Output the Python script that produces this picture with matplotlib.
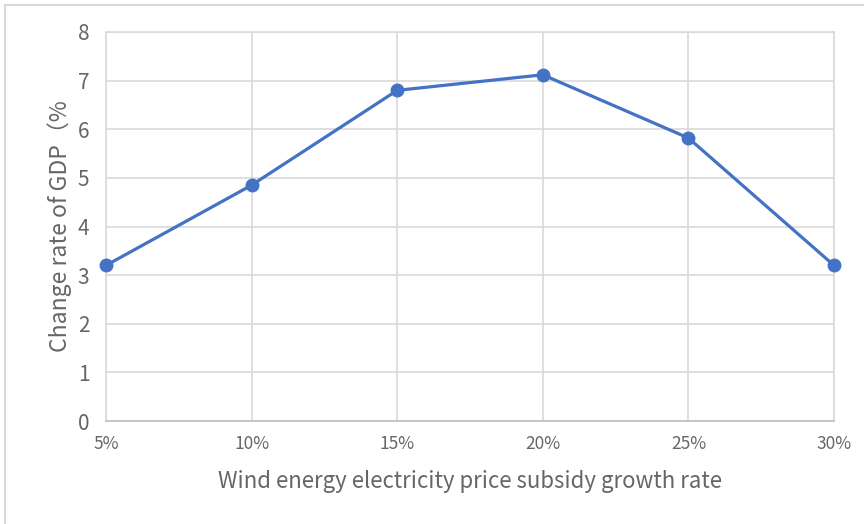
import matplotlib
matplotlib.use("Agg")
import matplotlib.pyplot as plt
from matplotlib.lines import Line2D

plt.rcParams['font.family'] = ['Noto Sans CJK SC', 'DejaVu Sans']

categories = ["5%", "10%", "15%", "20%", "25%", "30%"]
gdp_change = [3.2, 4.85, 6.8, 7.12, 5.82, 3.2]
y_ticks = [0, 1, 2, 3, 4, 5, 6, 7, 8]

W, H = 864, 524
fig = plt.figure(figsize=(W / 100, H / 100), dpi=100)
ax = fig.add_axes([106 / W, 1 - 421 / H, (834 - 106) / W, (421 - 32) / H])

x = list(range(len(categories)))
ax.plot(x, gdp_change, color="#4472C4", linewidth=2.3, marker="o",
        markersize=9, zorder=3, clip_on=False)

ax.set_xlim(0, len(categories) - 1)
ax.set_ylim(0, 8)
ax.set_xticks(x)
ax.set_xticklabels(categories)
ax.set_yticks(y_ticks)
ax.grid(True, color="#D9D9D9", linewidth=1.2)
ax.set_axisbelow(True)
for s in ax.spines.values():
    s.set_color("#D9D9D9")
    s.set_linewidth(1.2)
ax.spines['bottom'].set_color("#BFBFBF")
ax.tick_params(length=0, colors="#666666")
ax.tick_params(axis='x', pad=10, labelsize=12.5)
ax.tick_params(axis='y', pad=12, labelsize=15)

ax.set_xlabel("Wind energy electricity price subsidy growth rate",
              fontsize=16, color="#666666", labelpad=12)
ax.set_ylabel("Change rate of GDP（%", fontsize=16.5, color="#666666", labelpad=4)

# outer frame edges
fig.add_artist(Line2D([5 / W, 5 / W], [1 - 5 / H, 0], color="#D9D9D9",
                      linewidth=1.5, transform=fig.transFigure))
fig.add_artist(Line2D([5 / W, 1], [1 - 5 / H, 1 - 5 / H], color="#D9D9D9",
                      linewidth=1.5, transform=fig.transFigure))

fig.savefig("out.png", dpi=100)
